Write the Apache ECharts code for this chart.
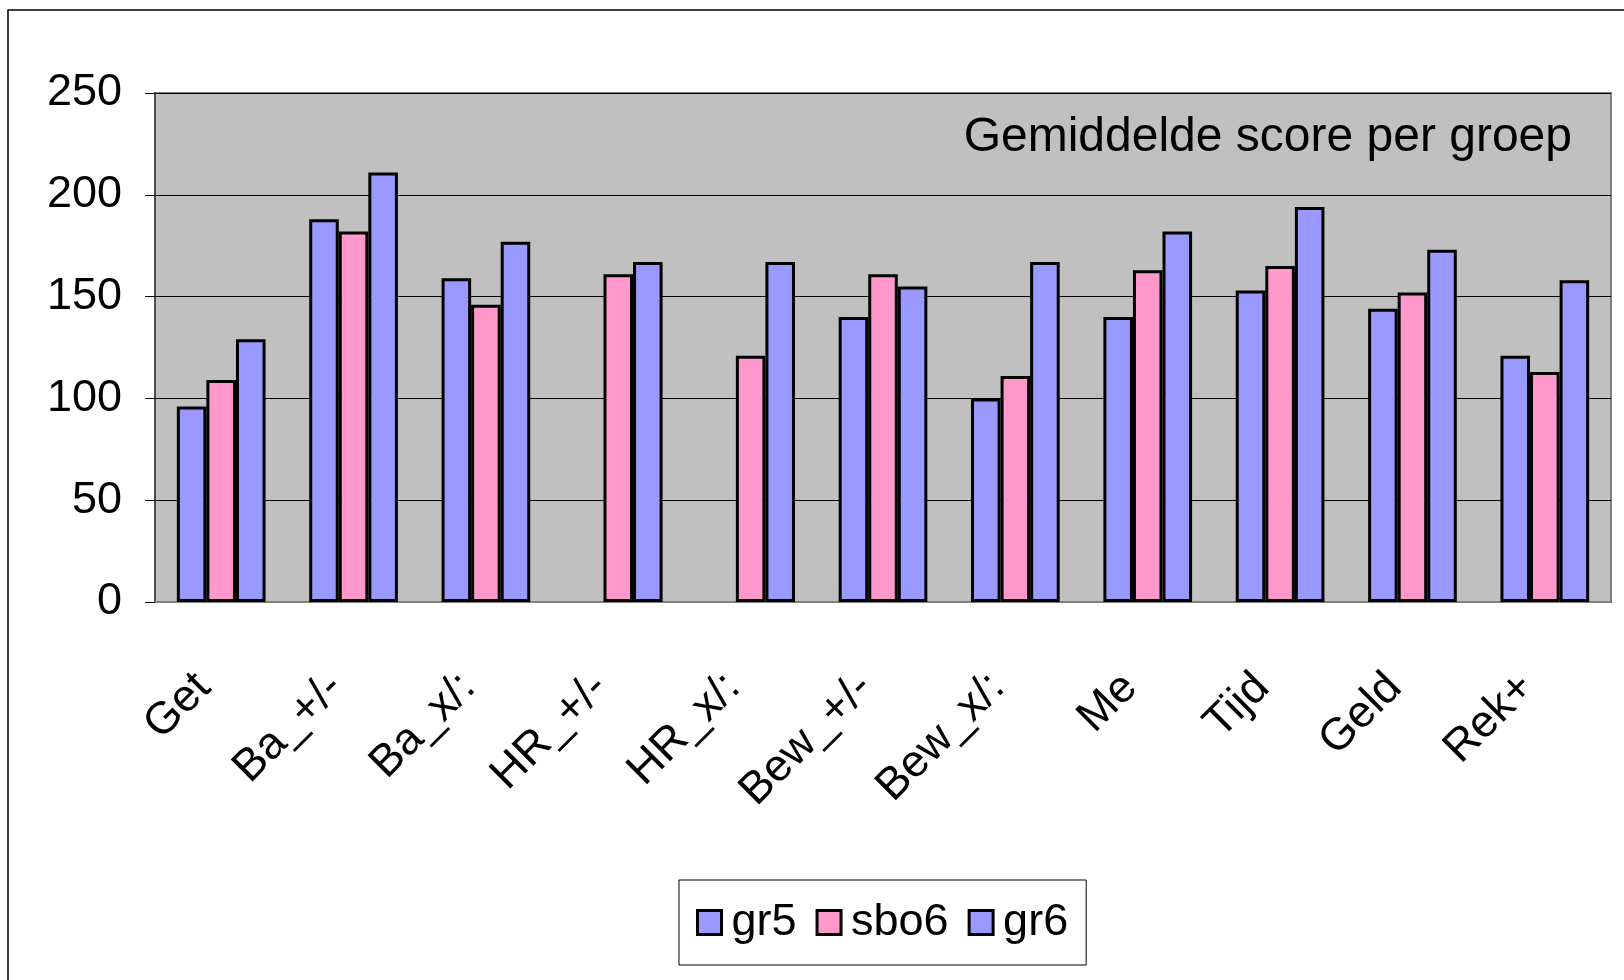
<!DOCTYPE html>
<html>
<head>
<meta charset="utf-8">
<script src="https://cdn.jsdelivr.net/npm/echarts@6/dist/echarts.min.js"></script>
<style>
html, body { margin: 0; padding: 0; background: #fff; }
#main { width: 1624px; height: 980px; }
</style>
</head>
<body>
<div id="main"></div>
<script>
var dom = document.getElementById("main");
var myChart = echarts.init(dom);

var categories = ['Get', 'Ba_+/-', 'Ba_x/:', 'HR_+/-', 'HR_x/:', 'Bew_+/-', 'Bew_x/:', 'Me', 'Tijd', 'Geld', 'Rek+'];
var gr5 = [96, 188, 159, null, null, 140, 100, 140, 153, 144, 121];
var sbo6 = [109, 182, 146, 161, 121, 161, 111, 163, 165, 152, 113];
var gr6 = [129, 211, 177, 167, 167, 155, 167, 182, 194, 173, 158];
var yTicks = [0, 50, 100, 150, 200, 250];

var font = 'Liberation Sans, Arial, sans-serif';

function barSeries(name, data, color) {
    return {
        name: name,
        type: 'bar',
        data: data,
        barGap: '0%',
        barCategoryGap: '33%',
        itemStyle: {
            color: color,
            borderColor: '#000',
            borderWidth: 3
        },
        emphasis: { disabled: true }
    };
}

var option = {
    backgroundColor: '#fff',
    animation: false,
    textStyle: { fontFamily: font },
    title: {
        text: 'Gemiddelde score per groep',
        right: 47,
        top: 109,
        textStyle: { fontFamily: font, fontSize: 48, fontWeight: 'normal', color: '#000' }
    },
    legend: {
        left: 679,
        top: 880,
        padding: [20, 18, 20, 17],
        icon: 'rect',
        itemWidth: 24,
        itemHeight: 24,
        itemGap: 19,
        borderColor: '#000',
        borderWidth: 1,
        textStyle: { fontFamily: font, fontSize: 45, color: '#000', padding: [0, 0, 0, 5] },
        itemStyle: { borderColor: '#000', borderWidth: 3 },
        data: ['gr5', 'sbo6', 'gr6']
    },
    graphic: [{
        type: 'rect',
        shape: { x: 8, y: 10, width: 1700, height: 1000 },
        style: { fill: 'none', stroke: '#000', lineWidth: 1.5 },
        silent: true
    }],
    grid: {
        left: 155,
        right: 13,
        top: 93,
        bottom: 378,
        show: true,
        backgroundColor: '#c0c0c0',
        borderColor: '#808080',
        borderWidth: 2
    },
    xAxis: {
        type: 'category',
        data: categories,
        axisLine: { lineStyle: { color: '#808080', width: 2 } },
        axisTick: { length: 17, lineStyle: { color: '#000', width: 1 } },
        axisLabel: {
            rotate: 45,
            margin: 61,
            padding: [0, 25, 0, 0],
            fontFamily: font,
            fontSize: 45,
            color: '#000'
        }
    },
    yAxis: {
        type: 'value',
        min: 0,
        max: 250,
        interval: 50,
        axisLine: { show: true, lineStyle: { color: '#404040', width: 1.5 } },
        axisTick: { show: true, length: 10, lineStyle: { color: '#000', width: 1 } },
        splitLine: { lineStyle: { color: '#000', width: 1 } },
        axisLabel: {
            margin: 33,
            fontFamily: font,
            fontSize: 45,
            color: '#000',
            formatter: function (v) { return yTicks.indexOf(v) >= 0 ? String(v) : ''; }
        }
    },
    series: [
        barSeries('gr5', gr5, '#9999ff'),
        barSeries('sbo6', sbo6, '#ff99cc'),
        barSeries('gr6', gr6, '#9999ff')
    ]
};

myChart.setOption(option, true);
</script>
</body>
</html>
